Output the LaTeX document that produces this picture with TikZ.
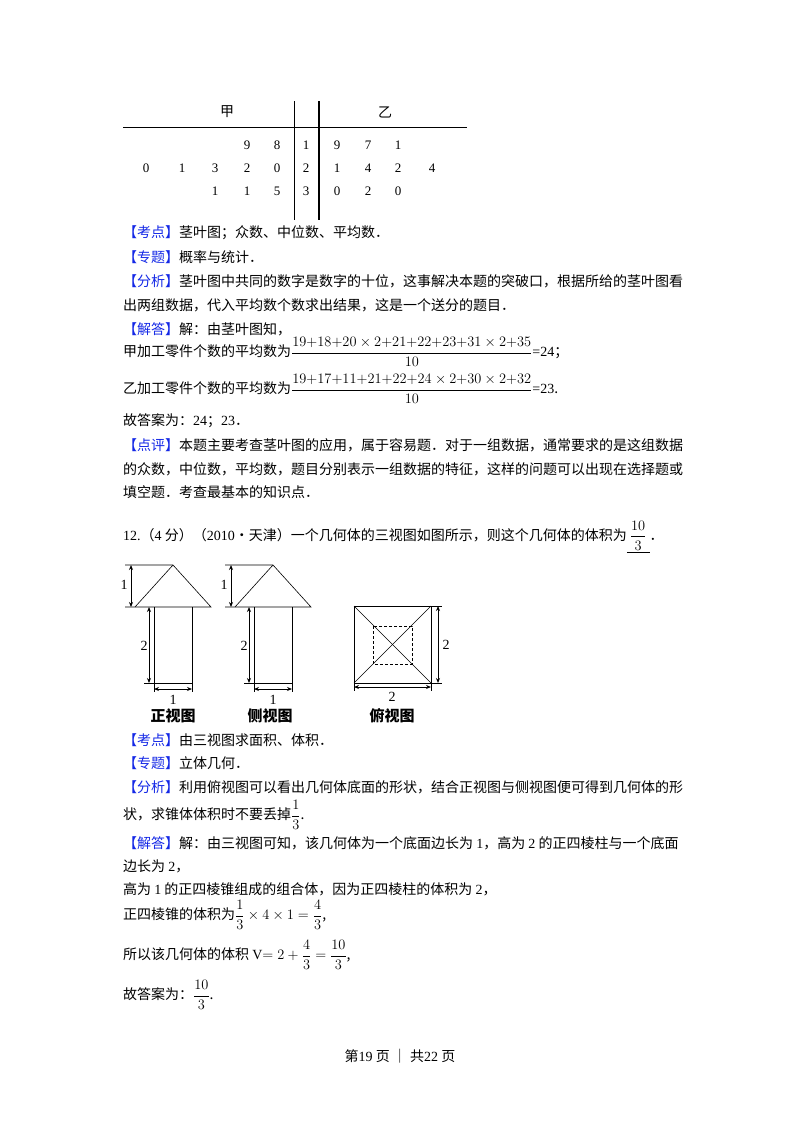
\documentclass[tikz,border=0pt]{standalone}
\usepackage{amsmath}
\usepackage{fontspec}
\usetikzlibrary{arrows.meta}
\setmainfont{Liberation Serif}
\newfontfamily\cjk{Noto Sans CJK SC}
\newcommand\z[1]{{\rmfamily #1}}
\definecolor{tagblue}{RGB}{20,40,230}
\newcommand\bq[1]{\textcolor{tagblue}{【#1】}}
\begin{document}
\begin{tikzpicture}[x=1pt,y=-1pt,
  txt/.style={anchor=west,inner sep=0pt,font=\fontsize{14}{16}\selectfont\cjk},
  dg/.style={inner sep=0pt,font=\fontsize{13}{15}\selectfont},
  lab/.style={inner sep=0pt,font=\fontsize{14}{16}\selectfont},
  viewcap/.style={inner sep=0pt,font=\fontsize{15}{17}\selectfont\cjk\bfseries},
  ln/.style={line width=0.6pt},
  dim/.style={line width=0.9pt,{Stealth[length=5pt,width=4pt]}-{Stealth[length=5pt,width=4pt]}}]
\useasboundingbox (0,0) rectangle (800,1132);
% stem-leaf
\draw[ln] (123,127) coordinate (h1) -- (467,127) coordinate (h2);
\draw[line width=0.5pt] (294,101) coordinate (v1) -- (294,220) coordinate (v1b);
\draw[line width=1.5pt] (319,101) coordinate (v2) -- (319,220) coordinate (v2b);
\node[dg,font=\fontsize{14}{16}\selectfont\cjk] (jia) at (227,112) {甲};
\node[dg,font=\fontsize{14}{16}\selectfont\cjk] (yi) at (385,112) {乙};
\foreach \x/\t in {247/9,277/8,306/1,337/9,368/7,398/1} \node[dg] at (\x,145) {\t};
\foreach \x/\t in {146/0,182/1,215/3,247/2,277/0,306/2,337/1,368/4,398/2,432/4} \node[dg] at (\x,168) {\t};
\foreach \x/\t in {215/1,247/1,277/5,306/3,337/0,368/2,398/0} \node[dg] at (\x,191) {\t};
% text block 1
\node[txt] (t1) at (123,233) {\bq{考点}茎叶图；众数、中位数、平均数．};
\node[txt] (t2) at (123,257) {\bq{专题}概率与统计．};
\node[txt] (t3) at (123,281) {\bq{分析}茎叶图中共同的数字是数字的十位，这事解决本题的突破口，根据所给的茎叶图看};
\node[txt] (t4) at (123,305) {出两组数据，代入平均数个数求出结果，这是一个送分的题目．};
\node[txt] (t5) at (123,329) {\bq{解答}解：由茎叶图知，};
\node[txt] (t6) at (123,352) {甲加工零件个数的平均数为$\dfrac{19{+}18{+}20\times2{+}21{+}22{+}23{+}31\times2{+}35}{10}$\z{=24}；};
\node[txt] (t7) at (123,389) {乙加工零件个数的平均数为$\dfrac{19{+}17{+}11{+}21{+}22{+}24\times2{+}30\times2{+}32}{10}$\z{=23}.};
\node[txt] (t8) at (123,421) {故答案为：\z{24}；\z{23}．};
\node[txt] (t9) at (123,445) {\bq{点评}本题主要考查茎叶图的应用，属于容易题．对于一组数据，通常要求的是这组数据};
\node[txt] (t10) at (123,469) {的众数，中位数，平均数，题目分别表示一组数据的特征，这样的问题可以出现在选择题或};
\node[txt] (t11) at (123,492) {填空题．考查最基本的知识点．};
\node[txt] (t12) at (123,537) {\z{12.}（\z{4} 分）（\z{2010}•天津）一个几何体的三视图如图所示，则这个几何体的体积为\underline{\ $\dfrac{10}{3}$\ }．};
% front view
\draw[ln] (125,565) -- (173,565) -- (211,607) -- (125,607);
\draw[ln] (135,607) -- (173,565);
\draw[ln] (154,607) -- (154,692);
\draw[ln] (192,607) -- (192,692);
\draw[ln] (144,683) -- (192,683);
\draw[dim] (131,565) -- (131,607);
\draw[dim] (149,607) -- (149,683);
\draw[dim] (154,689) -- (192,689);
\node[lab] at (124,585) {1};
\node[lab] at (144,646) {2};
\node[lab] at (173,700) {1};
\node[viewcap] at (173,716) {正视图};
% side view
\begin{scope}[xshift=100]
\draw[ln] (125,565) -- (173,565) -- (211,607) -- (125,607);
\draw[ln] (135,607) -- (173,565);
\draw[ln] (154,607) -- (154,692);
\draw[ln] (192,607) -- (192,692);
\draw[ln] (144,683) -- (192,683);
\draw[dim] (131,565) -- (131,607);
\draw[dim] (149,607) -- (149,683);
\draw[dim] (154,689) -- (192,689);
\node[lab] at (124,585) {1};
\node[lab] at (144,646) {2};
\node[lab] at (173,700) {1};
\node[viewcap] at (170,716) {侧视图};
\end{scope}
% top view
\draw[ln] (354,606) rectangle (431,683);
\draw[ln] (354,606) -- (431,683);
\draw[ln] (431,606) -- (354,683);
\draw[ln,dashed,dash pattern=on 3pt off 2pt] (373,626) rectangle (412,664);
\draw[ln] (431,606) -- (442,606);
\draw[ln] (431,683) -- (442,683);
\draw[ln] (354,683) -- (354,691);
\draw[ln] (431,683) -- (431,691);
\draw[dim] (438,606) -- (438,683);
\draw[dim] (354,687) -- (431,687);
\node[lab] at (446,645) {2};
\node[lab] at (392,697) {2};
\node[viewcap] at (392,716) {俯视图};
% text block 2
\node[txt] (s1) at (123,740) {\bq{考点}由三视图求面积、体积．};
\node[txt] (s2) at (123,763) {\bq{专题}立体几何．};
\node[txt] (s3) at (123,787) {\bq{分析}利用俯视图可以看出几何体底面的形状，结合正视图与侧视图便可得到几何体的形};
\node[txt] (s4) at (123,815) {状，求锥体体积时不要丢掉$\dfrac{1}{3}$.};
\node[txt] (s5) at (123,843) {\bq{解答}解：由三视图可知，该几何体为一个底面边长为 \z{1}，高为 \z{2} 的正四棱柱与一个底面};
\node[txt] (s6) at (123,866) {边长为 \z{2}，};
\node[txt] (s7) at (123,889) {高为 \z{1} 的正四棱锥组成的组合体，因为正四棱柱的体积为 \z{2}，};
\node[txt] (s8) at (123,915) {正四棱锥的体积为$\dfrac13\times4\times1=\dfrac43$,};
\node[txt] (s9) at (123,955) {所以该几何体的体积 \z{V}$=2+\dfrac43=\dfrac{10}{3}$,};
\node[txt] (s10) at (123,995) {故答案为：$\dfrac{10}{3}$.};
\node[txt,anchor=center] (foot) at (400,1056) {第\z{19} 页 ｜ 共\z{22} 页};
\end{tikzpicture}
\end{document}
